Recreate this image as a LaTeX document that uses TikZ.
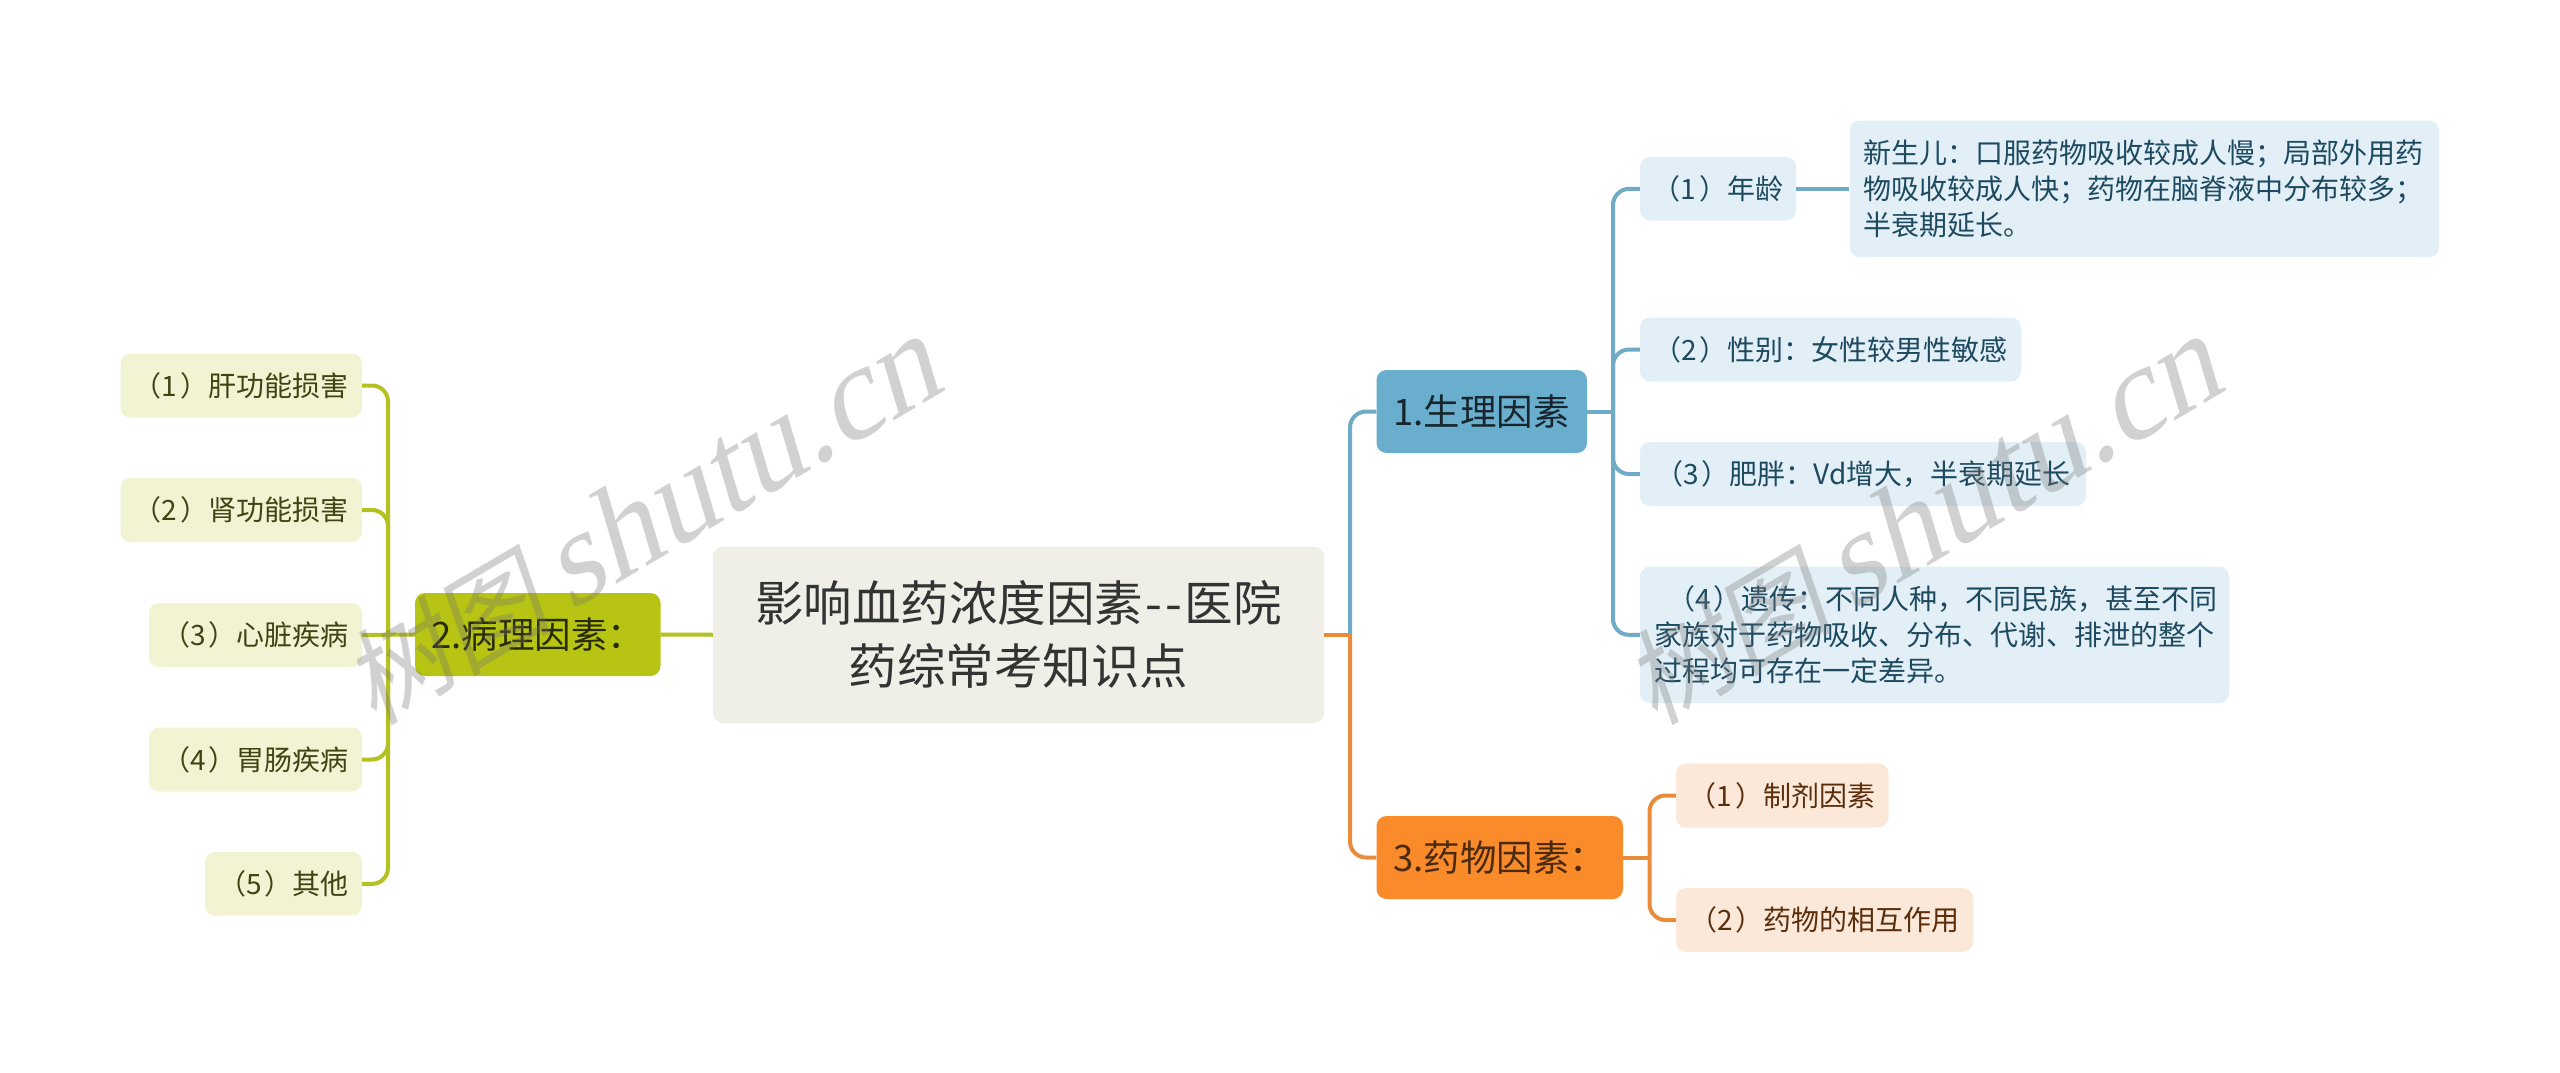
\documentclass[tikz,border=0pt]{standalone}
\usepackage{fontspec}
\usetikzlibrary{calc}
\setmainfont{Noto Sans CJK SC}
\newfontfamily\wmcjk[FakeSlant=0.2]{Noto Sans CJK SC}
\newfontfamily\wmlat[FakeSlant=0.25]{Liberation Serif}
\definecolor{bl}{HTML}{6AAECE}
\definecolor{blline}{HTML}{6FABC6}
\definecolor{blleaf}{HTML}{E2EFF6}
\definecolor{bltext}{HTML}{1E4A60}
\definecolor{gr}{HTML}{B8C413}
\definecolor{grline}{HTML}{B3C121}
\definecolor{grleaf}{HTML}{F1F3D3}
\definecolor{grtext}{HTML}{3F4412}
\definecolor{or}{HTML}{F98B2B}
\definecolor{orline}{HTML}{E98B3A}
\definecolor{orleaf}{HTML}{FCE8D8}
\definecolor{ortext}{HTML}{5A2E0C}
\definecolor{rootc}{HTML}{EFEFE8}
\tikzset{
  x=1pt,y=-1pt,
  boxn/.style={rounded corners=10pt,inner sep=0pt,anchor=center},
  rootbox/.style={boxn,fill=rootc,text=black!80,font=\fontsize{48.5}{63}\selectfont,align=center},
  branch/.style={boxn,font=\fontsize{36.5}{44}\selectfont},
  bluebr/.style={branch,fill=bl,text=black!78!bl},
  greenbr/.style={branch,fill=gr,text=black!78!gr},
  orbr/.style={branch,fill=or,text=black!70!or},
  leaftxt/.style={font=\fontsize{28}{36}\selectfont,align=left},
  blueleaf/.style={boxn,leaftxt,fill=blleaf,text=bltext},
  greenleaf/.style={boxn,leaftxt,fill=grleaf,text=grtext},
  orleafn/.style={boxn,leaftxt,fill=orleaf,text=ortext},
  blink/.style={draw=blline,line width=4pt},
  glink/.style={draw=grline,line width=4pt},
  olink/.style={draw=orline,line width=4pt},
  wmark/.style={text=black!55,opacity=.32,rotate=30.5,inner sep=0pt}
}
\newcommand{\bx}[7]{\node[#2,minimum width=#5pt-#3pt,minimum height=#6pt-#4pt] (#1) at ({(#3+#5)/2},{(#4+#6)/2}) {#7};}
\newcommand{\nm}[1]{（#1\kern3pt）}
\newcommand{\wmtext}{\fontsize{105}{120}\wmcjk\selectfont 树图\kern18pt\fontsize{130}{120}\wmlat\selectfont shutu.cn}
\begin{document}
\begin{tikzpicture}
\useasboundingbox (0,0) rectangle (2560,1073);
\fill[white] (0,0) rectangle (2560,1073);
% nodes
\bx{root}{rootbox}{713}{546.5}{1324}{723}{影响血药浓度因素\kern2pt-\kern3pt-\kern3pt医院\\药综常考知识点}
\bx{b1}{bluebr}{1376.5}{370}{1587}{453}{1.生理因素}
\bx{b2}{greenbr}{415}{593}{660.5}{676}{2.病理因素：}
\bx{b3}{orbr}{1376.5}{816}{1623}{899}{3.药物因素：}
\bx{a1}{blueleaf}{1640}{157}{1796}{220.5}{\nm{1}年龄}
\bx{a1d}{blueleaf}{1849.5}{120.5}{2439}{257}{\begin{minipage}{561pt}\fontsize{28}{36}\selectfont 新生儿：口服药物吸收较成人慢；局部外用药\\物吸收较成人快；药物在脑脊液中分布较多；\\半衰期延长。\end{minipage}}
\bx{a2}{blueleaf}{1640}{317.5}{2021}{381.5}{\nm{2}性别：女性较男性敏感}
\bx{a3}{blueleaf}{1640}{442}{2086}{506}{\nm{3}肥胖：Vd增大，半衰期延长}
\bx{a4}{blueleaf}{1640}{566.5}{2229}{703}{\begin{minipage}{561pt}\fontsize{28}{36}\selectfont\hspace*{13pt}\nm{4}遗传：不同人种，不同民族，甚至不同\\家族对于药物吸收、分布、代谢、排泄的整个\\过程均可存在一定差异。\end{minipage}}
\bx{c1}{greenleaf}{120.5}{353.5}{362}{417.5}{\nm{1}肝功能损害}
\bx{c2}{greenleaf}{120.5}{478}{362}{542}{\nm{2}肾功能损害}
\bx{c3}{greenleaf}{149}{603}{362}{667}{\nm{3}心脏疾病}
\bx{c4}{greenleaf}{149}{727.5}{362}{791.5}{\nm{4}胃肠疾病}
\bx{c5}{greenleaf}{205}{852}{362}{915.5}{\nm{5}其他}
\bx{d1}{orleafn}{1676}{763.5}{1888.5}{827.5}{\nm{1}制剂因素}
\bx{d2}{orleafn}{1676}{888}{1973}{952}{\nm{2}药物的相互作用}
% connectors
\coordinate (rr) at (1350,634.75);
\coordinate (rs) at (1352,634.75);
\draw[blink,rounded corners=16pt] (rr) -- (1350,411.5) -- (b1.west);
\draw[olink,rounded corners=16pt] (rr) -- (1350,857.5) -- (b3.west);
\draw[olink] (root.east) -- (rs);
\draw[glink] (root.west) -- (b2.east);
\coordinate (gt) at (388,635);
\draw[glink,rounded corners=16pt] (c1.east) -- (388,385.5) -- (gt);
\draw[glink,rounded corners=16pt] (c2.east) -- (388,510) -- (gt);
\draw[glink] (b2.west) -- (c3.east);
\draw[glink,rounded corners=16pt] (c4.east) -- (388,759.5) -- (gt);
\draw[glink,rounded corners=16pt] (c5.east) -- (388,884) -- (gt);
\coordinate (bt) at (1613,411.5);
\draw[blink] (b1.east) -- (bt);
\draw[blink,rounded corners=16pt] (a1.west) -- (1613,189) -- (bt);
\draw[blink,rounded corners=16pt] (a2.west) -- (1613,349.5) -- (bt);
\draw[blink,rounded corners=16pt] (a3.west) -- (1613,474) -- (bt);
\draw[blink,rounded corners=16pt] (a4.west) -- (1613,635) -- (bt);
\draw[blink] (a1.east) -- (a1d.west);
\coordinate (ot) at (1649.5,857.5);
\draw[olink] (b3.east) -- (ot);
\draw[olink,rounded corners=16pt] (d1.west) -- (1649.5,795.5) -- (ot);
\draw[olink,rounded corners=16pt] (d2.west) -- (1649.5,920) -- (ot);
% watermarks
\node[wmark] (w1) at (640,523) {\wmtext};
\node[wmark] (w2) at (1921,523) {\wmtext};
\end{tikzpicture}
\end{document}
